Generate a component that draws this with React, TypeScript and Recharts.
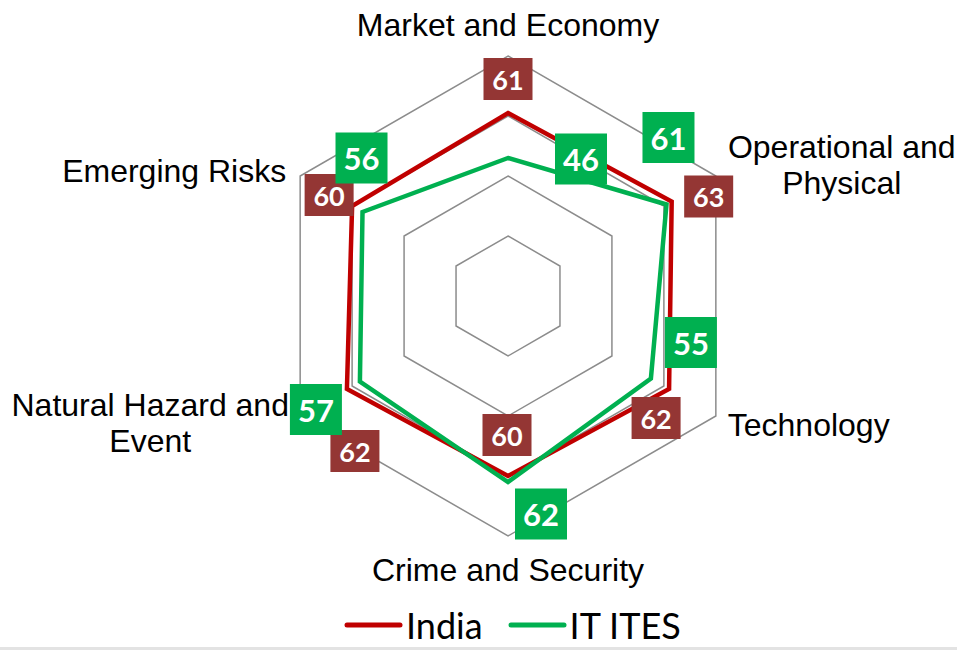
import { Legend, PolarAngleAxis, PolarGrid, PolarRadiusAxis, Radar, RadarChart } from 'recharts';

const categories = [
  'Market and Economy',
  'Operational and\nPhysical',
  'Technology',
  'Crime and Security',
  'Natural Hazard and\nEvent',
  'Emerging Risks',
];
const indiaValues = [61, 63, 62, 60, 62, 60];
const itItesValues = [46, 61, 55, 62, 57, 56];
const radiusDomain: [number, number] = [0, 80];

const INDIA = '#C00000';
const INDIA_BOX = '#943634';
const ITITES = '#00B050';

const rows = categories.map((category, i) => ({
  category,
  india: indiaValues[i],
  itites: itItesValues[i],
}));

// where each axis label sits relative to its tick point
const tickPlacement: Array<{ dx: number; dy: number; anchor: 'start' | 'middle' | 'end' }> = [
  { dx: 0, dy: -12, anchor: 'middle' },
  { dx: 119, dy: -14, anchor: 'middle' },
  { dx: 5, dy: 16, anchor: 'start' },
  { dx: 0, dy: 37, anchor: 'middle' },
  { dx: -143, dy: -4, anchor: 'middle' },
  { dx: -7, dy: 10, anchor: 'end' },
];

// data-label box offsets from the point, per axis
const indiaLabelOffset = [
  [0, -34],
  [37, -5],
  [-13, 29],
  [-1, -41],
  [8, 62],
  [-23, -11],
];
const ititesLabelOffset = [
  [73, 1],
  [2, -67],
  [40, -36],
  [33, 32],
  [-44, 28],
  [-1, -54],
];

function AxisTick(props: any) {
  const { x, y, payload } = props;
  const index = props.index ?? payload?.index ?? 0;
  const place = tickPlacement[index];
  const lines = String(payload.value).split('\n');
  return (
    <text
      x={x + place.dx}
      y={y + place.dy}
      textAnchor={place.anchor}
      fontFamily="'Liberation Sans', Arial, sans-serif"
      fontSize={32}
      fill="#000"
    >
      {lines.map((line, i) => (
        <tspan key={i} x={x + place.dx} dy={i === 0 ? 0 : 36}>
          {line}
        </tspan>
      ))}
    </text>
  );
}

function makeBoxLabel(fill: string, w: number, h: number, fontSize: number, offsets: number[][]) {
  return (props: any) => {
    const index = props.index ?? 0;
    const px = props.x ?? props.viewBox?.x;
    const py = props.y ?? props.viewBox?.y;
    const [dx, dy] = offsets[index];
    const cx = px + dx;
    const cy = py + dy;
    return (
      <g>
        <rect x={cx - w / 2} y={cy - h / 2} width={w} height={h} fill={fill} />
        <text
          x={cx}
          y={cy}
          textAnchor="middle"
          dominantBaseline="central"
          fontFamily="Lato, 'Open Sans', sans-serif"
          fontWeight={700}
          fontSize={fontSize}
          fill="#fff"
        >
          {props.value}
        </text>
      </g>
    );
  };
}

const indiaLabel = makeBoxLabel(INDIA_BOX, 49, 42, 27, indiaLabelOffset);
const ititesLabel = makeBoxLabel(ITITES, 52, 51, 31, ititesLabelOffset);

function LegendContent() {
  const items = [
    { name: 'India', color: INDIA, gap: 25 },
    { name: 'IT ITES', color: ITITES, gap: 0 },
  ];
  return (
    <div style={{ display: 'flex', paddingLeft: 344, height: 36 }}>
      {items.map((it) => (
        <div key={it.name} style={{ display: 'flex', alignItems: 'center', marginRight: it.gap }}>
          <svg width={59} height={10} style={{ marginRight: 3 }}>
            <line x1={3} y1={5} x2={56} y2={5} stroke={it.color} strokeWidth={5} strokeLinecap="round" />
          </svg>
          <span style={{ fontFamily: 'Lato, sans-serif', fontSize: 36, lineHeight: '36px', color: '#000' }}>
            {it.name}
          </span>
        </div>
      ))}
    </div>
  );
}

export default function App() {
  return (
    <div style={{ position: 'absolute', left: 0, top: 0, width: 957, height: 650, background: '#fff', overflow: 'hidden' }}>
      <RadarChart
        width={957}
        height={650}
        data={rows}
        cx={508}
        cy={296}
        outerRadius={240}
        startAngle={90}
        endAngle={-270}
        margin={{ top: 0, right: 0, bottom: 0, left: 0 }}
      >
        <PolarGrid gridType="polygon" radialLines={false} stroke="#8c8c8c" strokeWidth={1.5} />
        <PolarRadiusAxis domain={radiusDomain} tickCount={5} tick={false} axisLine={false} />
        <PolarAngleAxis dataKey="category" tick={<AxisTick />} tickLine={false} axisLine={false} />
        <Radar
          name="India"
          dataKey="india"
          stroke={INDIA}
          strokeWidth={4.5}
          fill="none"
          fillOpacity={0}
          dot={false}
          label={indiaLabel}
          isAnimationActive={false}
        />
        <Radar
          name="IT ITES"
          dataKey="itites"
          stroke={ITITES}
          strokeWidth={4.5}
          fill="none"
          fillOpacity={0}
          dot={false}
          label={ititesLabel}
          isAnimationActive={false}
        />
        <Legend
          verticalAlign="bottom"
          content={<LegendContent />}
          wrapperStyle={{ left: 0, top: 607, width: 957 }}
        />
      </RadarChart>
      <div style={{ position: 'absolute', left: 0, top: 647, width: 957, height: 3, background: '#e3e3e3' }} />
    </div>
  );
}
